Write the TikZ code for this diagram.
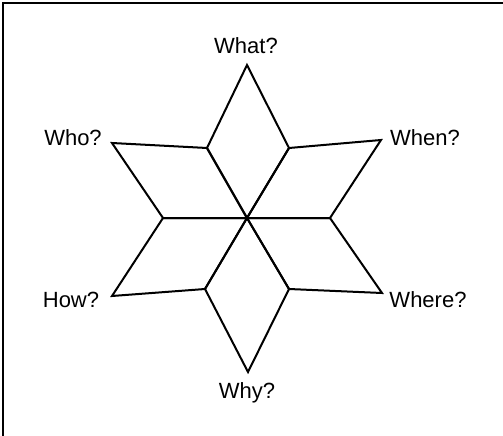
\documentclass[tikz,border=0pt]{standalone}
\usepackage{fontspec}
\setmainfont{Liberation Sans}
\usetikzlibrary{positioning}

\begin{document}
\begin{tikzpicture}[x=1pt, y=-1pt, line join=miter,
    starline/.style={line width=2pt},
    question/.style={font=\fontsize{22}{26}\selectfont, anchor=base, inner sep=0pt}]
\useasboundingbox (0,0) rectangle (503,436);

% === Marco ===
\draw[line width=2pt] (503,3) -- (3,3) -- (3,436);

% === Vertices de la estrella ===
\coordinate (c) at (247,218);
% interiores
\coordinate (inl) at (163,218);
\coordinate (inr) at (330,218);
\coordinate (inul) at (207,148);
\coordinate (inur) at (289,148);
\coordinate (inll) at (205,289);
\coordinate (inlr) at (289,289);
% puntas
\coordinate (tipwhat) at (247,65);
\coordinate (tipwhen) at (381,140);
\coordinate (tipwhere) at (382,293);
\coordinate (tipwhy) at (248,372);
\coordinate (tiphow) at (112,296);
\coordinate (tipwho) at (112,143);

% === Rombos ===
\draw[starline] (c) -- (inul) -- (tipwhat) -- (inur) -- cycle;
\draw[starline] (c) -- (inur) -- (tipwhen) -- (inr) -- cycle;
\draw[starline] (c) -- (inr) -- (tipwhere) -- (inlr) -- cycle;
\draw[starline] (c) -- (inlr) -- (tipwhy) -- (inll) -- cycle;
\draw[starline] (c) -- (inll) -- (tiphow) -- (inl) -- cycle;
\draw[starline] (c) -- (inl) -- (tipwho) -- (inul) -- cycle;

% === Etiquetas ===
\node[question] (what) at (246,53) {What?};
\node[question] (when) at (425,145) {When?};
\node[question] (where) at (428,307) {Where?};
\node[question] (why) at (247,398) {Why?};
\node[question] (how) at (71,307) {How?};
\node[question] (who) at (73,145) {Who?};

\end{tikzpicture}
\end{document}
